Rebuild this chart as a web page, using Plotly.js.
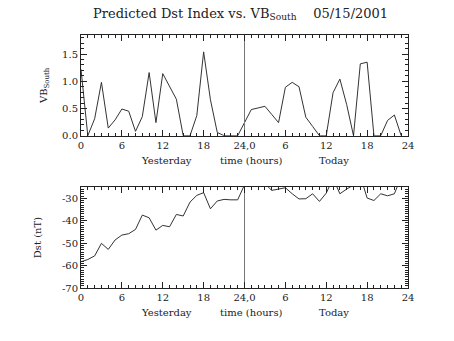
<!DOCTYPE html>
<html>
<head>
<meta charset="utf-8">
<script src="https://cdn.plot.ly/plotly-3.0.1.min.js"></script>
<style>html,body{margin:0;padding:0;background:#fff;}#chart{width:454px;height:341px;}</style>
</head>
<body>
<div id="chart"></div>
<script>
// Hours since start of "Yesterday" (0-23) and "Today" (24-47)
var hours = [0,1,2,3,4,5,6,7,8,9,10,11,12,13,14,15,16,17,18,19,20,21,22,23,
             24,25,26,27,28,29,30,31,32,33,34,35,36,37,38,39,40,41,42,43,44,45,46,47];
var vbSouth = [1.22,0,0.31,0.98,0.14,0.29,0.49,0.45,0.08,0.35,1.16,0.24,1.14,0.90,0.67,0,0,0.37,1.54,0.66,0.06,0,0,0,
               0.24,0.48,0.51,0.54,0.39,0.24,0.89,0.98,0.90,0.34,0.17,0,0,0.79,1.04,0.57,0,1.32,1.35,0,0,0.28,0.38,0];
var dst = [-58.3,-57.3,-55.7,-50.1,-52.8,-48.6,-46.4,-45.8,-43.9,-37.5,-38.7,-44.2,-42.1,-42.7,-37.2,-37.9,-31.7,-28.7,-27.5,-34.7,-31.2,-30.5,-30.7,-30.7,
           -24.0,-22.0,-23.0,-23.5,-26.5,-25.8,-25.3,-28.0,-30.3,-30.2,-28.0,-31.4,-27.7,-21.0,-28.0,-25.9,-24.1,-20.0,-29.9,-31.0,-28.0,-28.9,-28.0,-20.5];
var tickHours = [0,6,12,18,24,30,36,42,48];
var tickLabels = ["0","6","12","18","24,0","6","12","18","24"];
var dayHours = [12.5,25,37.2];
var dayLabels = ["Yesterday","time (hours)","Today"];
var divider = [24,24];

var FONT = "DejaVu Serif, Liberation Serif, serif";
var INK = "#222";

function xax(anchor){
  return {
    anchor: anchor, range:[0,48], domain:[0,1],
    tickmode:'array', tickvals: tickHours, ticktext: tickLabels,
    ticks:'inside', ticklen:6, tickcolor:INK, tickwidth:1,
    minor:{dtick:1, ticks:'inside', ticklen:3, tickcolor:INK},
    showline:true, linecolor:INK, linewidth:1, mirror:'ticks',
    showgrid:false, zeroline:false,
    tickfont:{family:FONT, size:10, color:INK}
  };
}

var data = [
  {x:hours, y:vbSouth, xaxis:'x', yaxis:'y', type:'scatter', mode:'lines',
   line:{color:'#333', width:1}, hoverinfo:'skip'},
  {x:divider, y:[-1,3], xaxis:'x', yaxis:'y', type:'scatter', mode:'lines',
   line:{color:'#777', width:1}, hoverinfo:'skip'},
  {x:hours, y:dst, xaxis:'x2', yaxis:'y2', type:'scatter', mode:'lines',
   line:{color:'#333', width:1}, hoverinfo:'skip'},
  {x:divider, y:[-100,0], xaxis:'x2', yaxis:'y2', type:'scatter', mode:'lines',
   line:{color:'#777', width:1}, hoverinfo:'skip'}
];

var annotations = [];
['x','x2'].forEach(function(xr, k){
  for (var i=0;i<dayHours.length;i++){
    annotations.push({x:dayHours[i], xref:xr, y:0, yref:(k===0?'y domain':'y2 domain'),
      yanchor:'top', yshift:-17, showarrow:false, text:dayLabels[i],
      font:{family:FONT, size:10, color:INK}});
  }
});

var layout = {
  width:454, height:341, showlegend:false,
  paper_bgcolor:'#fff', plot_bgcolor:'#fff',
  margin:{l:81, r:46, t:35, b:53},
  title:{text:'Predicted Dst Index vs. VB<sub>South</sub>    05/15/2001',
         font:{family:FONT, size:13, color:INK}, x:0.53, xanchor:'center', y:0.975, yanchor:'top'},
  xaxis: xax('y'),
  xaxis2: xax('y2'),
  yaxis: {domain:[0.602,1], range:[0,1.85], anchor:'x',
    tickvals:[0,0.5,1,1.5], ticktext:['0.0','0.5','1.0','1.5'],
    ticks:'inside', ticklen:6, tickcolor:INK,
    minor:{dtick:0.1, ticks:'inside', ticklen:3, tickcolor:INK},
    showline:true, linecolor:INK, mirror:'ticks', showgrid:false, zeroline:false,
    tickfont:{family:FONT, size:10, color:INK},
    title:{text:'VB<sub>South</sub>', font:{family:FONT, size:10, color:INK}, standoff:12}},
  yaxis2: {domain:[0,0.399], range:[-70,-25], anchor:'x2',
    tickvals:[-70,-60,-50,-40,-30], ticktext:['-70','-60','-50','-40','-30'],
    ticks:'inside', ticklen:6, tickcolor:INK,
    minor:{dtick:1, ticks:'inside', ticklen:3, tickcolor:INK},
    showline:true, linecolor:INK, mirror:'ticks', showgrid:false, zeroline:false,
    tickfont:{family:FONT, size:10, color:INK},
    title:{text:'Dst (nT)', font:{family:FONT, size:10, color:INK}, standoff:18}},
  annotations: annotations
};

Plotly.newPlot('chart', data, layout, {staticPlot:true, displayModeBar:false});
</script>
</body>
</html>
